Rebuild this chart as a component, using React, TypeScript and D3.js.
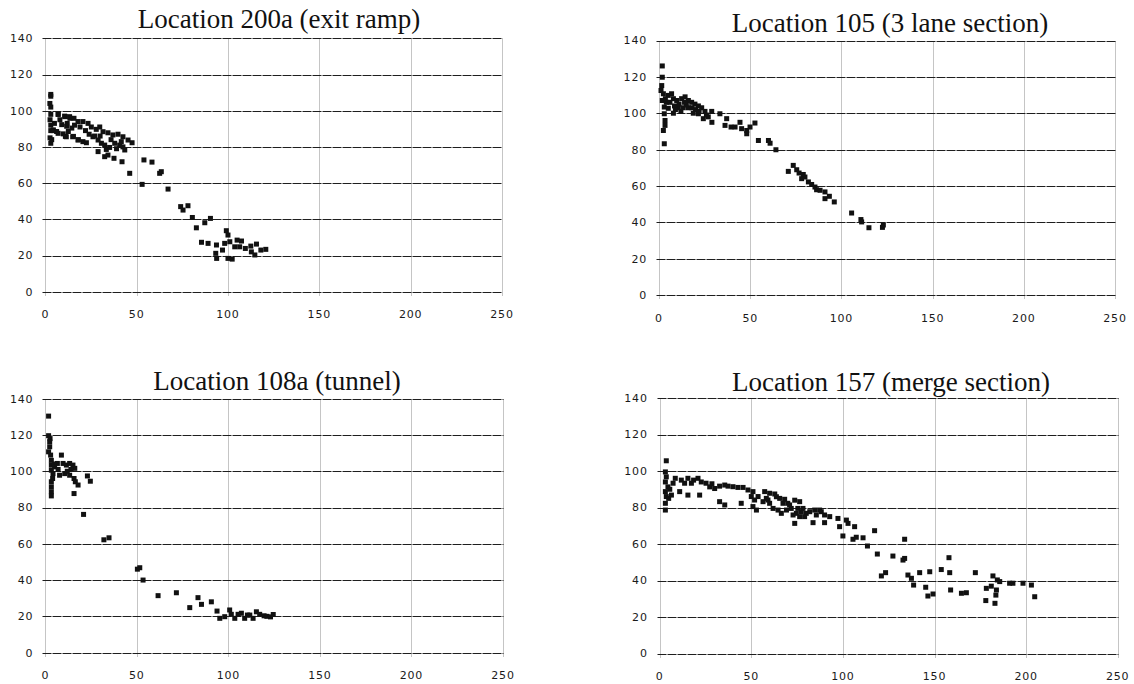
import React from "react";
import * as d3 from "d3";

type Pt = [number, number];

const xTicks = [0, 50, 100, 150, 200, 250];
const yTicks = [0, 20, 40, 60, 80, 100, 120, 140];

const titles = [
  "Location 200a (exit ramp)",
  "Location 105 (3 lane section)",
  "Location 108a (tunnel)",
  "Location 157 (merge section)",
];

const loc200a: Pt[] = [
  [3, 109], [3, 108], [2.5, 104], [3, 102], [3, 98], [2.6, 95], [3, 92], [3, 89], [2.6, 85], [3, 82], [3.5, 84],
  [4.4, 89.4], [4.2, 89], [6.2, 88.5], [7, 87.5], [7, 98], [7.1, 98], [9, 92.3], [9.8, 87.2], [10.6, 97], [10.8, 96.7],
  [11, 85.8], [11.5, 85.6], [11.7, 91.4], [12.6, 88.5], [13.3, 96.7], [13.5, 95.8], [14.5, 90.4], [15, 85.6], [15.4, 85.8],
  [15.7, 95.8], [17.9, 94], [17.9, 83.8], [18.1, 84], [20.6, 94], [20.6, 82.9], [22.5, 82.3], [23.4, 93], [25.2, 91],
  [26.1, 85.6], [27.9, 89.7], [28.9, 83.8], [28.9, 77.4], [29.8, 91], [30.7, 82], [31.6, 88.4], [32.5, 81], [32.5, 74.6],
  [33.4, 78.6], [34.3, 87.8], [34.3, 75.5], [35.2, 79.7], [37, 86.6], [37.6, 73.7], [38, 82], [39.8, 87], [40.7, 81],
  [41.6, 82.9], [42, 71.8], [42.5, 85.6], [42.5, 80], [43.5, 78.3], [45.3, 83.8], [46.2, 65.4], [47.5, 82.3], [53, 59.3],
  [54, 72.8], [58.4, 71.6], [62.6, 65.4], [63.5, 66.3], [67.2, 56.7], [74.1, 47], [75.4, 45.1], [78.1, 47.5], [80.5, 41],
  [82.7, 35.3], [85.5, 27.3], [87.3, 38.1], [89.1, 26.7], [90.4, 40.5], [93.3, 21.2], [93.7, 25.8], [93.8, 18.4], [97, 23],
  [98.2, 26.7], [99.1, 33.7], [100, 31.3], [100, 18.4], [101, 27.6], [102.3, 18], [103.7, 24.8], [105, 28.5], [106.4, 24.8],
  [107.4, 28], [109.5, 23.9], [112.5, 25.2], [112.8, 22], [114.7, 20.3], [115.6, 26.3], [118, 23], [120.7, 23.4],
  [5, 93], [8, 95], [12, 93], [16, 92], [19, 91], [22, 89], [24, 87], [27, 86], [30, 86], [36, 84], [39, 79],
];

const loc105: Pt[] = [
  [1.8, 126], [1.8, 119.8], [1.5, 115.2], [1.1, 112.5], [2.4, 110.7], [1.8, 107], [2.9, 103.4], [2.9, 99.7], [3.3, 96],
  [3.3, 93.3], [2.4, 90.5], [2.9, 83.2], [5.1, 109.8], [6.9, 110.7], [7.9, 108], [9.7, 107], [12.4, 108], [14.3, 109],
  [16.1, 107], [17.9, 106], [19.7, 105], [21.6, 104], [23.4, 103], [5.1, 102.7], [7.9, 100], [10.6, 103], [13.3, 103],
  [16.1, 103], [18.8, 100], [21.6, 99.7], [24.3, 97], [25.2, 101], [27, 98], [28.9, 101], [29, 95], [33.4, 99.7],
  [36.2, 93.3], [37.1, 97], [39.5, 92.4], [41.7, 92.4], [44.4, 95], [45.3, 91.5], [48.1, 90.5], [48.1, 88.7], [49.9, 92.4],
  [52.6, 94.6], [54.5, 85], [60, 85], [60.9, 83.5], [64.1, 79.9], [70.9, 68], [73.6, 71.3], [75.5, 68.9], [76.8, 67.1],
  [78.2, 64], [79.1, 66.3], [80, 64.9], [81.9, 62.2], [83.7, 60.8], [85.5, 59.4], [86.4, 57.9], [88.3, 57.6], [91, 56.7],
  [91, 53], [93.4, 54.3], [96.1, 51.2], [105.6, 45.1], [110.7, 41.5], [111.1, 40.2], [115.1, 37], [122.5, 37.2], [123, 38.5],
  [11, 105], [15, 104.5], [20, 102], [8.5, 104], [4, 106],
  [3.5, 108], [6, 106], [9, 102], [12, 101], [14, 106], [18, 103], [22, 101], [26, 99],
];

const loc108a: Pt[] = [
  [1.8, 130.4], [1.8, 119.6], [2.6, 118], [2.4, 116.3], [2.4, 113.5], [1.8, 110.7], [2.9, 108.9], [3.3, 106], [3.3, 103.4],
  [3.3, 100.6], [3.3, 94.2], [3.3, 91.4], [3.3, 88.7], [3.3, 86.4], [4.2, 98.7], [5.1, 102.4], [6.6, 104.3], [8.8, 108.9],
  [9.7, 104.3], [11.5, 103.4], [13.3, 104.3], [15.1, 103.4], [16.1, 101.6], [7.8, 97.8], [10.6, 98.7], [13.3, 97.8],
  [15.7, 96], [16.4, 94.2], [17.9, 92.4], [15.7, 87.7], [23, 97.4], [24.6, 94.5], [20.9, 76.2], [32, 62.2], [34.8, 63.3],
  [50.3, 46], [51.6, 46.8], [53.4, 40], [61.6, 31.4], [71.6, 33], [78.9, 24.8], [83.4, 30.3], [85.3, 26.6], [90.7, 28],
  [93.8, 22.9], [95.3, 18.9], [98, 19.8], [100.7, 23.5], [101.6, 21.1], [103.5, 18.9], [105.3, 21.1], [107.1, 21.7],
  [108.9, 18.9], [110.4, 20.7], [111.7, 20.7], [113.5, 18.9], [115.3, 22.5], [117.1, 21.1], [119.5, 20.3], [121, 20],
  [123, 19.7], [124.5, 21],
  [4, 96], [5, 104], [7, 101], [12, 100], [14, 101],
];

const loc157: Pt[] = [
  [3.6, 105.6], [3.1, 99.5], [3.6, 96.8], [3.1, 94], [4.5, 91.3], [3.1, 88.7], [3.6, 86], [3.1, 82.3], [3.1, 78.6],
  [4.9, 85], [6.4, 86.8], [7.3, 93.3], [11.8, 95], [13.6, 93.3], [15.4, 96], [17.3, 93.3], [20.9, 96], [22.7, 94],
  [25.3, 93.3], [27.3, 91.3], [30, 90.4], [32.7, 91.7], [35.5, 92.3], [37.3, 91.7], [40, 91.4], [42.7, 91], [45.5, 91],
  [48.2, 89.6], [50.9, 88.7], [50, 86], [51.8, 84.1], [10.9, 88.7], [15.4, 86.8], [21.8, 86.8], [32.7, 83.2], [35.5, 81.4],
  [44.5, 82.3], [50.9, 80.5], [52.8, 78.6], [57.3, 88.7], [60, 87.8], [62.8, 87.4], [65.5, 85], [68.2, 84.5], [58.2, 85],
  [60, 82.3], [61.9, 79.5], [64.6, 78.6], [66.4, 76.8], [69.2, 78.6], [69.9, 82.3], [73.7, 84], [76.4, 83.2], [71.8, 79.5],
  [74.6, 76.8], [77.3, 77.7], [80, 76.8], [73.7, 71.3], [76.4, 75], [79.1, 75], [81.9, 77.7], [84.6, 78.6], [83.7, 71.7],
  [88.2, 77.7], [90, 71.7], [90, 75.9], [92.8, 75], [97.3, 74], [98.2, 69.5], [101.9, 73.1], [102.8, 71.3], [100, 64.4],
  [106.4, 69.5], [105.5, 62.6], [107.3, 63.7], [111, 63.4], [113.4, 58.9], [117.3, 67.3], [118.8, 54.5], [121, 42.5],
  [123.3, 44.3], [127.3, 53.4], [132.8, 51.2], [133.7, 62.6], [133.7, 52.1], [135.5, 43], [137.4, 41.2], [138.6, 37.5],
  [141.9, 44.3], [145.2, 36.3], [146.4, 31.5], [147.4, 44.8], [149.2, 32.6], [153.7, 46], [157.9, 52.5], [158.3, 44.3],
  [158.8, 34.8], [164.7, 33], [167.4, 33.3], [172.3, 44.3], [178, 29], [178.3, 35.7], [181, 36.9], [181.9, 42.5],
  [183, 27.5], [183.8, 34.8], [183.5, 32], [184.3, 40.3], [185.6, 39.4], [191, 38.5], [192.8, 38.5], [198.3, 38.5],
  [202.9, 37.5], [204.7, 31.1],
  [53.7, 86], [56.4, 83.2], [59.1, 84.1], [63.7, 85.9], [67.3, 82.3], [70.9, 81.4], [75.4, 79.5], [78.2, 79.5],
  [72.8, 75.9], [85.5, 75.9], [87.3, 78.6], [5.5, 90], [8.5, 96], [18.5, 95], [28.5, 93],
];

const datasets = [loc200a, loc105, loc108a, loc157];

// layout (pixel frames of each panel)
const frames = [
  { left: 45.3, right: 502, top: 38.3, bottom: 291.7, tx: 279, ty: 27.5 },
  { left: 659, right: 1115, top: 40.5, bottom: 295, tx: 890, ty: 31.5 },
  { left: 45.3, right: 503, top: 398.7, bottom: 652.6, tx: 277, ty: 390 },
  { left: 659.7, right: 1117.7, top: 398, bottom: 653.5, tx: 891, ty: 391 },
];

const tickFont = "'DejaVu Sans', Verdana, sans-serif";
const MS = 5;
const snap = (v: number) => Math.round(v) + 0.5;

function Panel({ idx }: { idx: number }) {
  const f = frames[idx];
  const data = datasets[idx];
  const x = d3.scaleLinear().domain([0, 250]).range([f.left, f.right]);
  const y = d3.scaleLinear().domain([0, 140]).range([f.bottom, f.top]);
  return (
    <g>
      <text
        x={f.tx}
        y={f.ty}
        textAnchor="middle"
        fontFamily="'Liberation Serif', 'Times New Roman', serif"
        fontSize={27}
        fill="#111"
      >
        {titles[idx]}
      </text>
      {xTicks.map((t) => (
        <line
          key={"v" + t}
          x1={snap(x(t))}
          x2={snap(x(t))}
          y1={snap(y(140))}
          y2={snap(y(0)) + 3}
          stroke="#8a8a8a"
          strokeWidth={1}
          strokeDasharray="1 1"
        />
      ))}
      {yTicks.map((t) => (
        <line
          key={"h" + t}
          x1={snap(x(0)) - 3}
          x2={snap(x(250))}
          y1={snap(y(t))}
          y2={snap(y(t))}
          stroke="#1e1e1e"
          strokeWidth={1.2}
          strokeDasharray="9 1"
        />
      ))}
      {yTicks.map((t) => (
        <text
          key={"yl" + t}
          x={x(0) - 12}
          y={y(t)}
          dy="0.36em"
          textAnchor="end"
          fontFamily={tickFont}
          fontSize={11}
          letterSpacing={0.8}
          fill="#1a1a1a"
        >
          {t}
        </text>
      ))}
      {xTicks.map((t) => (
        <text
          key={"xl" + t}
          x={x(t)}
          y={y(0) + 26.5}
          textAnchor="middle"
          fontFamily={tickFont}
          fontSize={11}
          letterSpacing={0.8}
          fill="#1a1a1a"
        >
          {t}
        </text>
      ))}
      {data.map((d, i) => (
        <rect
          key={i}
          x={x(d[0]) - MS / 2}
          y={y(d[1]) - MS / 2}
          width={MS}
          height={MS}
          fill="#111"
        />
      ))}
    </g>
  );
}

export default function App() {
  return (
    <svg width={1134} height={684} style={{ position: "absolute", left: 0, top: 0, background: "#fff" }}>
      <rect x={0} y={0} width={1134} height={684} fill="#fff" />
      {[0, 1, 2, 3].map((i) => (
        <Panel key={i} idx={i} />
      ))}
    </svg>
  );
}
